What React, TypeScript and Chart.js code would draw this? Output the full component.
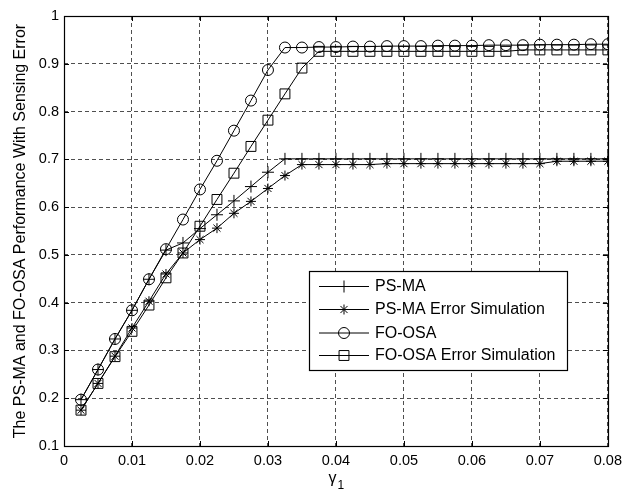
import React, { useEffect, useRef } from "react";
import { Chart, registerables } from "chart.js";

Chart.register(...registerables);

const xValues = [
  0.0025, 0.005, 0.0075, 0.01, 0.0125, 0.015, 0.0175, 0.02, 0.0225, 0.025, 0.0275, 0.03,
  0.0325, 0.035, 0.0375, 0.04, 0.0425, 0.045, 0.0475, 0.05, 0.0525, 0.055, 0.0575, 0.06,
  0.0625, 0.065, 0.0675, 0.07, 0.0725, 0.075, 0.0775, 0.08,
];

const psMa = [
  0.197, 0.26, 0.324, 0.384, 0.449, 0.51, 0.525, 0.555, 0.584, 0.613, 0.643, 0.673,
  0.701, 0.701, 0.701, 0.701, 0.701, 0.701, 0.701, 0.701, 0.701, 0.701, 0.701, 0.701,
  0.701, 0.701, 0.701, 0.701, 0.701, 0.701, 0.701, 0.701,
];

const psMaErr = [
  0.175, 0.231, 0.288, 0.347, 0.403, 0.46, 0.504, 0.532, 0.556, 0.587, 0.612, 0.639,
  0.666, 0.689, 0.689, 0.689, 0.689, 0.689, 0.691, 0.691, 0.691, 0.691, 0.691, 0.691,
  0.691, 0.691, 0.691, 0.691, 0.696, 0.696, 0.696, 0.696,
];

const foOsa = [
  0.197, 0.26, 0.324, 0.384, 0.449, 0.512, 0.574, 0.637, 0.697, 0.76, 0.823, 0.887,
  0.934, 0.934, 0.935, 0.935, 0.936, 0.936, 0.937, 0.937, 0.937, 0.938, 0.938, 0.938,
  0.939, 0.939, 0.939, 0.94, 0.94, 0.94, 0.941, 0.941,
];

const foOsaErr = [
  0.175, 0.231, 0.287, 0.34, 0.395, 0.452, 0.504, 0.56, 0.616, 0.671, 0.727, 0.782,
  0.837, 0.891, 0.926, 0.926, 0.926, 0.926, 0.926, 0.926, 0.926, 0.926, 0.926, 0.926,
  0.926, 0.926, 0.929, 0.929, 0.929, 0.929, 0.929, 0.929,
];

const seriesNames = ["PS-MA", "PS-MA Error Simulation", "FO-OSA", "FO-OSA Error Simulation"];
const seriesValues = [psMa, psMaErr, foOsa, foOsaErr];
const seriesMarkers = ["cross", "star", "circle", "rect"];
const seriesMarkerRadius = [6, 5, 5.5, 7];

const yTitle = "The PS-MA and FO-OSA Performance With Sensing Error";
const xTitleMain = "γ";
const xTitleSub = "1";

const FONT = "'Liberation Sans', Arial, sans-serif";

const fmt = (v: number) => String(Number(v.toFixed(3)));

const framePlugin = {
  id: "frame",
  afterDatasetsDraw(chart: any) {
    const { ctx, chartArea } = chart;
    const { left, right, top, bottom } = chartArea;
    const xs = chart.scales.x;
    const ys = chart.scales.y;
    ctx.save();
    ctx.strokeStyle = "#000";
    ctx.lineWidth = 1;
    ctx.setLineDash([]);
    // inner tick marks
    ctx.beginPath();
    xs.ticks.forEach((t: any) => {
      const px = Math.round(xs.getPixelForValue(t.value)) + 0.5;
      ctx.moveTo(px, bottom);
      ctx.lineTo(px, bottom - 5);
      ctx.moveTo(px, top);
      ctx.lineTo(px, top + 5);
    });
    ys.ticks.forEach((t: any) => {
      const py = Math.round(ys.getPixelForValue(t.value)) + 0.5;
      ctx.moveTo(left, py);
      ctx.lineTo(left + 5, py);
      ctx.moveTo(right, py);
      ctx.lineTo(right - 5, py);
    });
    ctx.stroke();
    ctx.lineWidth = 1.2;
    ctx.strokeRect(Math.round(left) + 0.5, Math.round(top) + 0.5, Math.round(right - left), Math.round(bottom - top));

    // legend
    const lx = 309.5, ly = 271.5, lw = 258, lh = 99;
    ctx.fillStyle = "#fff";
    ctx.fillRect(lx, ly, lw, lh);
    ctx.lineWidth = 1.2;
    ctx.strokeRect(lx, ly, lw, lh);
    const rows = [286, 309, 332.5, 355];
    ctx.font = `16px ${FONT}`;
    ctx.textBaseline = "middle";
    ctx.textAlign = "left";
    rows.forEach((ry, i) => {
      ctx.strokeStyle = "#000";
      ctx.lineWidth = 1;
      ctx.beginPath();
      ctx.moveTo(319, ry + 0.5);
      ctx.lineTo(369, ry + 0.5);
      ctx.stroke();
      ctx.fillStyle = "#000";
      (Chart as any).helpers?.drawPoint;
      drawMarker(ctx, seriesMarkers[i], seriesMarkerRadius[i], 344, ry + 0.5);
      ctx.fillStyle = "#000";
      ctx.fillText(seriesNames[i], 375, ry + 1);
    });

    // y title
    ctx.save();
    ctx.translate(20.5, (top + bottom) / 2);
    ctx.rotate(-Math.PI / 2);
    ctx.textAlign = "center";
    ctx.textBaseline = "middle";
    ctx.font = `16px ${FONT}`;
    ctx.fillStyle = "#000";
    ctx.fillText(yTitle, 0, 0);
    ctx.restore();

    // x title with subscript
    ctx.font = `16px ${FONT}`;
    const w1 = ctx.measureText(xTitleMain).width;
    ctx.font = `12px ${FONT}`;
    const w2 = ctx.measureText(xTitleSub).width;
    const cx = (left + right) / 2;
    const sx = cx - (w1 + w2) / 2;
    ctx.textAlign = "left";
    ctx.textBaseline = "alphabetic";
    ctx.fillStyle = "#000";
    ctx.font = `16px ${FONT}`;
    ctx.fillText(xTitleMain, sx, 483);
    ctx.font = `12px ${FONT}`;
    ctx.fillText(xTitleSub, sx + w1 + 1, 489);
    ctx.restore();
  },
};

function drawMarker(ctx: CanvasRenderingContext2D, style: string, r: number, x: number, y: number) {
  ctx.save();
  ctx.strokeStyle = "#000";
  ctx.lineWidth = 1;
  ctx.beginPath();
  if (style === "cross") {
    ctx.moveTo(x - r, y);
    ctx.lineTo(x + r, y);
    ctx.moveTo(x, y - r);
    ctx.lineTo(x, y + r);
  } else if (style === "star") {
    ctx.moveTo(x - r, y);
    ctx.lineTo(x + r, y);
    ctx.moveTo(x, y - r);
    ctx.lineTo(x, y + r);
    const d = r * Math.SQRT1_2;
    ctx.moveTo(x - d, y - d);
    ctx.lineTo(x + d, y + d);
    ctx.moveTo(x - d, y + d);
    ctx.lineTo(x + d, y - d);
  } else if (style === "circle") {
    ctx.arc(x, y, r, 0, Math.PI * 2);
  } else {
    const s = r * Math.SQRT1_2;
    ctx.rect(x - s, y - s, 2 * s, 2 * s);
  }
  ctx.stroke();
  ctx.restore();
}

export default function App() {
  const ref = useRef<HTMLCanvasElement | null>(null);

  useEffect(() => {
    if (!ref.current) return;
    const datasets = seriesValues.map((vals, i) => ({
      label: seriesNames[i],
      data: vals.map((v, j) => ({ x: xValues[j], y: v })),
      borderColor: "#000",
      borderWidth: 1,
      backgroundColor: "rgba(0,0,0,0)",
      pointStyle: seriesMarkers[i] as any,
      pointRadius: seriesMarkerRadius[i],
      pointBorderColor: "#000",
      pointBorderWidth: 1,
      pointBackgroundColor: "rgba(0,0,0,0)",
      fill: false,
      tension: 0,
    }));
    const chart = new Chart(ref.current, {
      type: "line",
      data: { datasets },
      plugins: [framePlugin],
      options: {
        animation: false,
        responsive: false,
        maintainAspectRatio: false,
        layout: { padding: { top: 16, right: 16, left: 0, bottom: 0 } },
        plugins: { legend: { display: false }, tooltip: { enabled: false } },
        scales: {
          x: {
            type: "linear",
            min: 0,
            max: 0.08,
            afterFit: (s: any) => {
              s.height = 50;
            },
            ticks: {
              stepSize: 0.01,
              padding: 6,
              color: "#000",
              font: { family: FONT, size: 14.5 },
              maxRotation: 0,
              callback: (v: any) => fmt(Number(v)),
            },
            grid: {
              color: "#222",
              lineWidth: 0.8,
              drawTicks: false,
            },
            border: { display: false, dash: [4, 3] },
          },
          y: {
            type: "linear",
            min: 0.1,
            max: 1,
            afterFit: (s: any) => {
              s.width = 64;
            },
            ticks: {
              stepSize: 0.1,
              padding: 5,
              color: "#000",
              font: { family: FONT, size: 14.5 },
              callback: (v: any) => fmt(Number(v)),
            },
            grid: {
              color: "#222",
              lineWidth: 0.8,
              drawTicks: false,
            },
            border: { display: false, dash: [4, 3] },
          },
        },
      },
    });
    return () => chart.destroy();
  }, []);

  return (
    <div style={{ position: "absolute", left: 0, top: 0, width: 628, height: 496, background: "#fff" }}>
      <canvas ref={ref} width={628} height={496} />
    </div>
  );
}
